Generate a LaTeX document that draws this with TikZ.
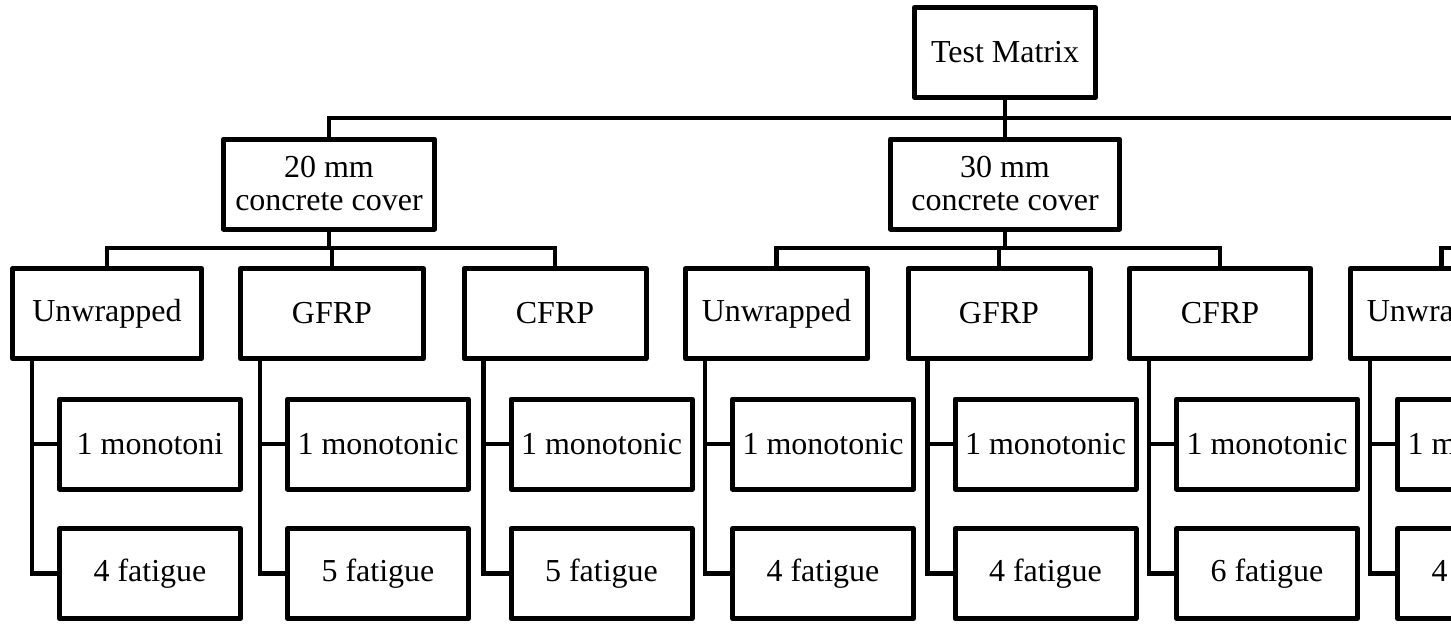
\documentclass[tikz,border=0pt]{standalone}
\usepackage{fontspec}
\setmainfont{Liberation Serif}
\usetikzlibrary{positioning}
\tikzset{
  box/.style={draw, line width=5pt, line join=round, outer sep=0pt,
    inner sep=0pt, minimum width=181pt, minimum height=90pt,
    align=center, font=\fontsize{32}{33}\selectfont},
  link/.style={line width=4.5pt}
}
\begin{document}
\begin{tikzpicture}[x=1pt,y=-1pt,link]
  % \draw[help lines] (0,0) grid (1451,625);
  \useasboundingbox (0,0) rectangle (1451,625);
  \clip (0,0) rectangle (1451,625);
  \node[box] (tm) at (1005,52.5) {Test Matrix};
  \node[box,minimum width=211pt] (c20) at (329,184) {20 mm\\concrete cover};
  \node[box,minimum width=229pt] (c30) at (1005,184) {30 mm\\concrete cover};
  \coordinate (topend) at (1470,118);
  \coordinate (bus3end) at (1470,248);
  \draw (c20.north) |- (topend);
  \draw (tm.south) -- (c30.north);
  % wrapping + specimens
  \foreach \n/\x/\w/\lab/\mt/\ft in {
      u1/107/189/Unwrapped/{1 monotoni}/{4 fatigue},
      g1/332/183/GFRP/{1 monotonic}/{5 fatigue},
      c1/555/182/CFRP/{1 monotonic}/{5 fatigue},
      u2/776.5/182/Unwrapped/{1 monotonic}/{4 fatigue},
      g2/999/182/GFRP/{1 monotonic}/{4 fatigue},
      c2/1220/181/CFRP/{1 monotonic}/{6 fatigue},
      u3/1441.5/182/Unwrapped/{1 monotonic}/{4 fatigue}}{
    \pgfmathsetmacro\mx{\x-\w/2+137.5}
    \node[box,minimum width=\w pt] (\n) at (\x,313.5) {\lab};
    \node[box] (m\n) at (\mx,444) {\mt};
    \node[box] (f\n) at (\mx,573.5) {\ft};
    \draw ([xshift=19.5pt]\n.south west) |- (m\n.west);
    \draw ([xshift=19.5pt]\n.south west) |- (f\n.west);
  }
  \foreach \n in {u1,g1,c1}
    \draw (c20.south) -- ++(0,19) -| (\n.north);
  \foreach \n in {u2,g2,c2}
    \draw (c30.south) -- ++(0,19) -| (\n.north);
  \draw (u3.north) |- (bus3end);
\end{tikzpicture}
\end{document}
